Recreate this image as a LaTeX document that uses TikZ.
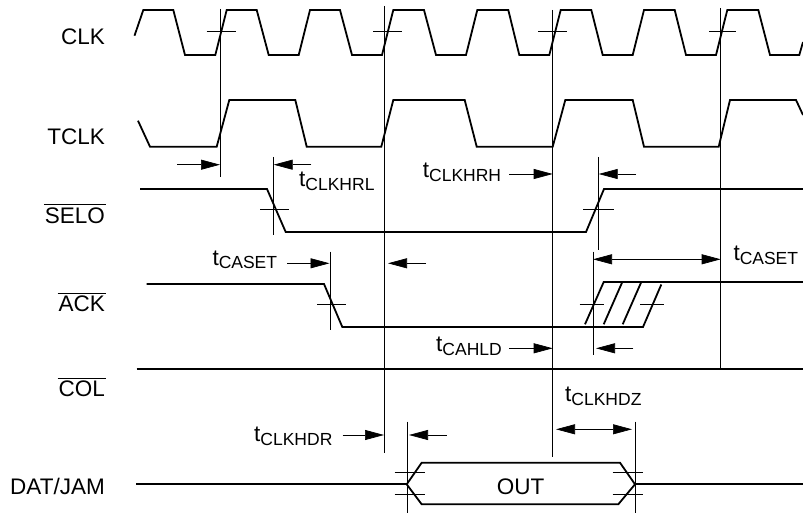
\documentclass[tikz,border=0pt]{standalone}
\usepackage{fontspec}
\setmainfont{Liberation Sans}
\usetikzlibrary{arrows.meta}
\newcommand{\tname}[1]{t\raisebox{-4pt}{\fontsize{17.5}{19}\selectfont #1}}
\newcommand{\lowsig}[1]{\setbox0\hbox{#1}\rlap{\kern-1pt\rule[18pt]{\dimexpr\wd0+2pt}{0.8pt}}\box0}
\tikzset{
    sigline/.style={line width=1.8pt},
    guideline/.style={line width=0.7pt},
    dimarrow/.style={line width=0.7pt, -{Triangle[length=19pt,width=10pt]}},
    dimboth/.style={line width=0.7pt, {Triangle[length=19pt,width=10pt]}-{Triangle[length=19pt,width=10pt]}},
    siglabel/.style={anchor=base east, inner sep=0pt, font=\fontsize{22.5}{24}\selectfont},
    timelabel/.style={anchor=base west, inner sep=0pt, font=\fontsize{22.5}{24}\selectfont},
}
\begin{document}
\begin{tikzpicture}[x=1pt, y=-1pt]
    \useasboundingbox (0,0) rectangle (803,513);

    % signal names
    \node[siglabel] (clk) at (105,45) {CLK};
    \node[siglabel] (tclk) at (105,145) {TCLK};
    \node[siglabel] (selo) at (105,223) {\lowsig{SELO}};
    \node[siglabel] (ack) at (105,311.7) {\lowsig{ACK}};
    \node[siglabel] (col) at (105,396.7) {\lowsig{COL}};
    \node[siglabel] (datjam) at (105,494) {DAT/JAM};

    % waveforms
    \draw[sigline] (134.5,35.7) -- (143.3,10) -- (173.3,10) -- (185,55) -- (215.3,55)
        -- (226.7,10) -- (256.7,10) -- (268.7,55) -- (298.7,55)
        -- (310,10) -- (340,10) -- (352,55) -- (382,55)
        -- (393.3,10) -- (424,10) -- (436,55) -- (466,55)
        -- (477.3,10) -- (508.3,10) -- (519.3,55) -- (549.3,55)
        -- (560.7,10) -- (591.3,10) -- (602.7,55) -- (632.7,55)
        -- (644,10) -- (674.7,10) -- (686,55) -- (716,55)
        -- (727.3,10) -- (758.3,10) -- (770,55) -- (799.3,55) -- (803,42);
    \draw[sigline] (138,120.7) -- (150,146.7) -- (216.7,146.7) -- (229.3,100) -- (295.3,100)
        -- (306.7,146.7) -- (381.3,146.7) -- (393.3,100) -- (464.7,100)
        -- (476.7,146.7) -- (552.7,146.7) -- (565.3,100) -- (632.7,100)
        -- (644,146.7) -- (718.7,146.7) -- (730,100) -- (796,100) -- (803,115);
    \draw[sigline] (140,189) -- (267,189) -- (285.7,232) -- (586,232) -- (604,189) -- (803,189);
    \draw[sigline] (146.7,284) -- (324,284) -- (342.3,327) -- (643,327) -- (661.3,284.5);
    \draw[sigline] (585,324.3) -- (603.7,282) -- (803,282);
    \draw[sigline] (603.7,324.3) -- (622.3,282);
    \draw[sigline] (622.7,324.3) -- (641.3,282);
    \draw[sigline] (136.7,369) -- (803,369);
    \draw[sigline] (136,484.3) -- (406.7,484.3);
    \draw[sigline] (406.7,484.3) -- (421.7,462.7) -- (620,462.7) -- (635,484.3)
        -- (618.3,504.3) -- (421.7,504.3) -- cycle;
    \draw[sigline] (635,484.3) -- (803,484.3);
    \node[inner sep=0pt, anchor=base, font=\fontsize{22.5}{24}\selectfont] (out) at (520.7,494) {OUT};

    % guide lines
    \coordinate (G1a) at (220,9);
    \coordinate (G1b) at (220,177);
    \coordinate (G2a) at (384.7,6);
    \coordinate (G2b) at (384.7,453);
    \coordinate (G3a) at (552.7,10);
    \coordinate (G3b) at (552.7,457);
    \coordinate (G4a) at (720.7,8);
    \coordinate (G4b) at (720.7,369);
    \coordinate (G5a) at (273.7,157);
    \coordinate (G5b) at (273.7,235);
    \coordinate (G6a) at (598.7,157);
    \coordinate (G6b) at (598.7,250);
    \coordinate (G7a) at (330.7,251.7);
    \coordinate (G7b) at (330.7,330);
    \coordinate (G8a) at (593,251.7);
    \coordinate (G8b) at (593,355);
    \coordinate (G9a) at (407.3,421.7);
    \coordinate (G9b) at (407.3,513);
    \coordinate (G10a) at (635,421.7);
    \coordinate (G10b) at (635,513);
    \draw[guideline] (G1a) -- (G1b);
    \draw[guideline] (G2a) -- (G2b);
    \draw[guideline] (G3a) -- (G3b);
    \draw[guideline] (G4a) -- (G4b);
    \draw[guideline] (G5a) -- (G5b);
    \draw[guideline] (G6a) -- (G6b);
    \draw[guideline] (G7a) -- (G7b);
    \draw[guideline] (G8a) -- (G8b);
    \draw[guideline] (G9a) -- (G9b);
    \draw[guideline] (G10a) -- (G10b);

    % threshold ticks
    \draw[guideline] (206.7,31.7) -- (235.7,31.7);
    \draw[guideline] (373.3,31.7) -- (402,31.7);
    \draw[guideline] (538,31.7) -- (566.7,31.7);
    \draw[guideline] (709.3,31.7) -- (735.7,31.7);
    \draw[guideline] (260.3,209) -- (289.3,209);
    \draw[guideline] (583,209) -- (614.3,209);
    \draw[guideline] (317.3,304) -- (346.3,304);
    \draw[guideline] (579.7,304) -- (603.7,304);
    \draw[guideline] (640,304) -- (663.7,304);
    \draw[guideline] (394.7,472.7) -- (424.7,472.7);
    \draw[guideline] (394.7,494) -- (424.7,494);
    \draw[guideline] (612.7,472.7) -- (642.7,472.7);
    \draw[guideline] (612.7,494) -- (642.7,494);

    % time labels
    \node[timelabel] (clkhrl) at (299,187) {\tname{CLKHRL}};
    \node[timelabel] (clkhrh) at (422.7,177.7) {\tname{CLKHRH}};
    \node[timelabel] (casetl) at (212.3,265) {\tname{CASET}};
    \node[timelabel] (casetr) at (733.3,260.3) {\tname{CASET}};
    \node[timelabel] (cahld) at (436,351.7) {\tname{CAHLD}};
    \node[timelabel] (clkhdr) at (254,441.3) {\tname{CLKHDR}};
    \node[timelabel] (clkhdz) at (565,401.7) {\tname{CLKHDZ}};

    % time arrows
    \coordinate (P1a) at (177.3,164.7);
    \coordinate (P1b) at (220,164.7);
    \coordinate (P2a) at (311.3,164.7);
    \coordinate (P2b) at (273.7,164.7);
    \coordinate (P3a) at (509.3,174);
    \coordinate (P3b) at (552.7,174);
    \coordinate (P4a) at (636,174);
    \coordinate (P4b) at (598.7,174);
    \coordinate (P5a) at (287.3,263.3);
    \coordinate (P5b) at (329.5,263.3);
    \coordinate (P6a) at (426,263.3);
    \coordinate (P6b) at (388,263.3);
    \coordinate (P7a) at (593,259.3);
    \coordinate (P7b) at (720.7,259.3);
    \coordinate (P8a) at (509.3,348.3);
    \coordinate (P8b) at (552.7,348.3);
    \coordinate (P9a) at (633.3,348.3);
    \coordinate (P9b) at (596,348.3);
    \coordinate (P10a) at (342.7,435);
    \coordinate (P10b) at (384,435);
    \coordinate (P11a) at (446.7,435);
    \coordinate (P11b) at (409,435);
    \coordinate (P12a) at (556,429.3);
    \coordinate (P12b) at (632,429.3);
    \draw[dimarrow] (P1a) -- (P1b);
    \draw[dimarrow] (P2a) -- (P2b);
    \draw[dimarrow] (P3a) -- (P3b);
    \draw[dimarrow] (P4a) -- (P4b);
    \draw[dimarrow] (P5a) -- (P5b);
    \draw[dimarrow] (P6a) -- (P6b);
    \draw[dimboth] (P7a) -- (P7b);
    \draw[dimarrow] (P8a) -- (P8b);
    \draw[dimarrow] (P9a) -- (P9b);
    \draw[dimarrow] (P10a) -- (P10b);
    \draw[dimarrow] (P11a) -- (P11b);
    \draw[dimboth] (P12a) -- (P12b);
\end{tikzpicture}
\end{document}
